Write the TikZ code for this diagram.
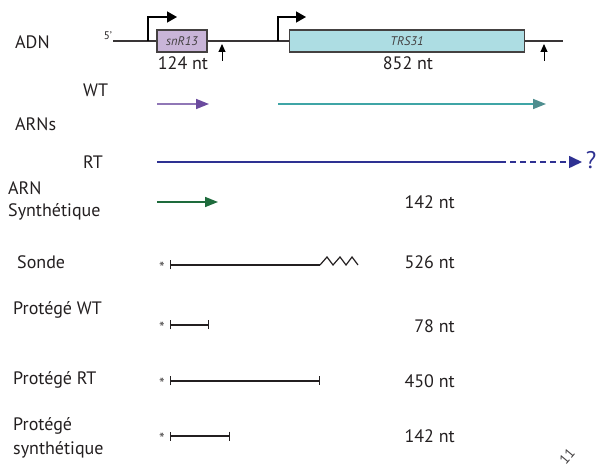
\documentclass[tikz,border=0pt]{standalone}
\usepackage{fontspec}
\setmainfont{PT Sans}
\usetikzlibrary{arrows.meta}
\definecolor{snrfill}{HTML}{C9B5D8}
\definecolor{trsfill}{HTML}{ADDDE3}
\definecolor{wtpurple}{HTML}{6B4A9E}
\definecolor{wtteal}{HTML}{3FA5A6}
\definecolor{wttealhead}{HTML}{4F8E8F}
\definecolor{rtnavy}{HTML}{2E3192}
\definecolor{syngreen}{HTML}{1E6B3C}
\definecolor{ink}{HTML}{231F20}
\begin{document}
\begin{tikzpicture}[x=1pt,y=-1pt,
  font=\fontsize{18}{22}\selectfont,
  lbl/.style={anchor=west,inner sep=0pt,text=ink,align=left},
  ntlbl/.style={anchor=east,inner sep=0pt,text=ink},
  genebox/.style={draw=ink!85,line width=1.3pt,minimum height=22pt,inner sep=0pt,
                  font=\fontsize{12.5}{14}\selectfont\itshape,text=ink!85},
  dna/.style={draw=ink!90,line width=1.2pt},
  prom/.style={draw=black,line width=1.4pt,-{Triangle[length=10pt,width=11pt]}},
  term/.style={draw=black,line width=1pt,-{Triangle[length=8pt,width=7pt]}},
  rna/.style={line width=1.6pt,-{Triangle[length=13pt,width=10pt]}},
  frag/.style={draw=ink,line width=1.4pt,{Bar[width=9pt,line width=1.4pt]}-{Bar[width=9pt,line width=1.4pt]}},
  star/.style={inner sep=0pt,text=ink!80,font=\fontsize{16}{16}\selectfont}
]
\useasboundingbox (0,0) rectangle (600,470);

% ---------------- ADN ----------------
\node[lbl] (adn) at (15,42) {ADN};
\node[inner sep=0pt,text=ink,font=\fontsize{11}{12}\selectfont] (five) at (108,36) {5'};
\coordinate (dnaL) at (113,41);
\coordinate (dnaR) at (563,41);
\draw[dna] (dnaL) -- (dnaR);
\node[genebox,fill=snrfill,minimum width=50pt] (snr) at (182,41) {snR13};
\node[genebox,fill=trsfill,minimum width=235pt] (trs) at (407,41) {TRS31};
\node[inner sep=0pt,text=ink] (n124) at (183,63) {124 nt};
\node[inner sep=0pt,text=ink] (n852) at (408,63) {852 nt};
% promoters
\coordinate (p1) at (148,41);
\coordinate (p1t) at (177,17);
\coordinate (p2) at (278,41);
\coordinate (p2t) at (306,17);
\draw[prom] (p1) |- (p1t);
\draw[prom] (p2) |- (p2t);
% terminators
\coordinate (t1b) at (222,61);
\coordinate (t1t) at (222,44);
\coordinate (t2b) at (544,61);
\coordinate (t2t) at (544,44);
\draw[term] (t1b) -- (t1t);
\draw[term] (t2b) -- (t2t);

% ---------------- ARNs ----------------
\node[lbl] (wt) at (83,90) {WT};
\node[lbl] (arns) at (15,124) {ARNs};
\node[lbl] (rt) at (83,162) {RT};
\coordinate (wa1) at (157,104);
\coordinate (wa2) at (209,104);
\draw[rna,draw=wtpurple!75,-{Triangle[length=13pt,width=10pt,color=wtpurple]}] (wa1) -- (wa2);
\coordinate (wb1) at (278,104);
\coordinate (wb2) at (546,104);
\draw[rna,draw=wtteal,-{Triangle[length=13pt,width=10pt,color=wttealhead]}] (wb1) -- (wb2);
\coordinate (r1) at (157,162);
\coordinate (r2) at (500,162);
\coordinate (r3) at (582,162);
\draw[line width=1.6pt,draw=rtnavy] (r1) -- (r2);
\draw[rna,draw=rtnavy,dash pattern=on 6pt off 4pt,-{Triangle[length=13pt,width=12pt,color=rtnavy]}] (r2) -- (r3);
\node[inner sep=0pt,text=rtnavy,font=\fontsize{24}{26}\selectfont] (q) at (591,160) {?};

% ---------------- ARN synthetique ----------------
\node[lbl] (arnsyn) at (8,201) {ARN\\Synthétique};
\coordinate (g1) at (157,202);
\coordinate (g2) at (218,202);
\draw[rna,draw=syngreen,-{Triangle[length=13pt,width=10pt,color=syngreen]}] (g1) -- (g2);
\node[ntlbl] (n142a) at (455,202) {142 nt};

% ---------------- Sonde ----------------
\node[lbl] (sonde) at (17,262) {Sonde};
\node[star] (s0) at (162,268) {*};
\coordinate (s1) at (170,265);
\coordinate (s2) at (320,265);
\draw[ink,line width=1.4pt,{Bar[width=9pt,line width=1.4pt]}-] (s1) -- (s2);
\draw[ink,line width=1.2pt,line join=miter] (s2) -- ++(7,-8) -- ++(6,8) -- ++(7,-8) -- ++(6,8) -- ++(6,-8) -- ++(6,8);
\node[ntlbl] (n526) at (455,262) {526 nt};

% ---------------- Protege WT ----------------
\node[lbl] (pwt) at (13,310) {Protégé WT};
\node[star] (pw0) at (162,328) {*};
\coordinate (pw1) at (170,325);
\coordinate (pw2) at (209,325);
\draw[frag] (pw1) -- (pw2);
\node[ntlbl] (n78) at (455,326) {78 nt};

% ---------------- Protege RT ----------------
\node[lbl] (prt) at (13,380) {Protégé RT};
\node[star] (pr0) at (162,384) {*};
\coordinate (pr1) at (170,381);
\coordinate (pr2) at (320,381);
\draw[frag] (pr1) -- (pr2);
\node[ntlbl] (n450) at (455,381) {450 nt};

% ---------------- Protege synthetique ----------------
\node[lbl,font=\fontsize{18}{24}\selectfont] (psyn) at (13,438) {Protégé\\synthétique};
\node[star] (ps0) at (162,439) {*};
\coordinate (ps1) at (170,436);
\coordinate (ps2) at (230,436);
\draw[frag] (ps1) -- (ps2);
\node[ntlbl] (n142b) at (455,436) {142 nt};

% watermark fragment
\node[rotate=50,inner sep=0pt,text=ink!85,font=\fontsize{14}{15}\selectfont] (wm) at (567,456) {11};
\end{tikzpicture}
\end{document}
